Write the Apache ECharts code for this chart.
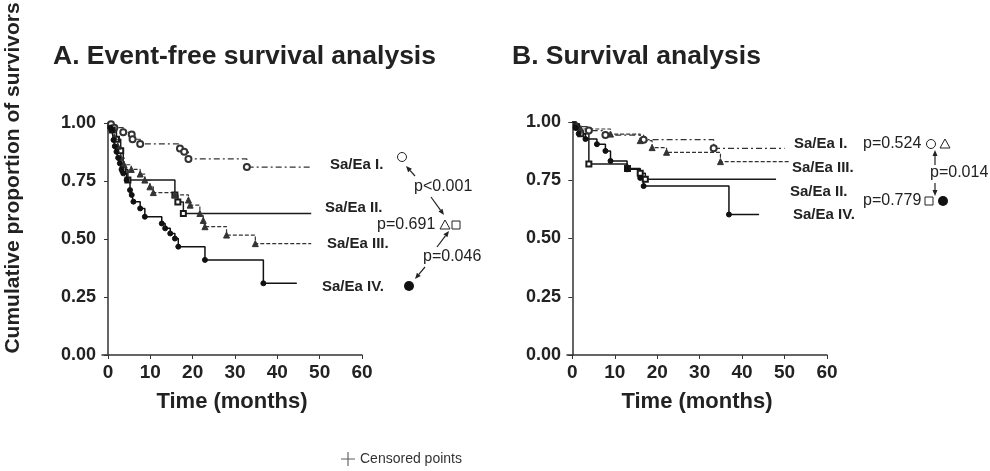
<!DOCTYPE html>
<html lang="en">
<head>
    <meta charset="UTF-8">
    <title>Kaplan-Meier survival</title>
</head>
<body style="margin:0">
    <div id="card" style="width: 990px;height:471px;"></div>
    <script src="https://cdn.jsdelivr.net/npm/echarts@6/dist/echarts.min.js"></script>
    <script>
        // A. event-free survival (months, proportion)
        var a1T = [0, 0.7, 1.5, 3.6, 5.6, 5.8, 7.6, 17, 18, 19, 32.8, 48];
        var a1V = [1, 0.995, 0.98, 0.96, 0.95, 0.93, 0.91, 0.89, 0.876, 0.845, 0.81, 0.81];
        var a2T = [0, 1, 2, 3, 3.6, 4.7, 15.8, 16.5, 17.8, 48];
        var a2V = [1, 0.97, 0.93, 0.88, 0.8, 0.754, 0.69, 0.66, 0.61, 0.61];
        var a3T = [0, 0.8, 1.5, 2.3, 3, 3.8, 5.5, 7.6, 8.7, 9.9, 10.7, 15.8, 19, 19.4, 21.7, 22.5, 22.9, 28, 34.8, 48];
        var a3V = [1, 0.98, 0.94, 0.9, 0.85, 0.82, 0.8, 0.78, 0.754, 0.725, 0.7, 0.69, 0.668, 0.646, 0.61, 0.58, 0.553, 0.517, 0.48, 0.48];
        var a4T = [0, 0.5, 0.9, 1.3, 1.6, 2, 2.4, 2.8, 3.2, 3.6, 4.4, 5.2, 5.6, 6, 7.6, 8.7, 12.7, 13.5, 14.7, 15.8, 16.6, 22.9, 36.7, 44.6];
        var a4V = [1, 0.98, 0.97, 0.927, 0.9, 0.876, 0.85, 0.826, 0.8, 0.783, 0.754, 0.711, 0.69, 0.661, 0.632, 0.596, 0.567, 0.546, 0.524, 0.502, 0.467, 0.41, 0.309, 0.309];

        // B. overall survival
        var b1T = [0, 1, 3.9, 7.8, 16.8, 33.3, 50];
        var b1V = [1, 0.98, 0.963, 0.944, 0.924, 0.887, 0.887];
        var b2T = [0, 1, 2, 3.9, 13, 16, 17.2, 48];
        var b2V = [1, 0.98, 0.95, 0.82, 0.8, 0.78, 0.754, 0.754];
        var b3T = [0, 1, 2, 9, 16, 18.8, 22.2, 34.9, 51];
        var b3V = [1, 0.985, 0.97, 0.948, 0.92, 0.89, 0.87, 0.83, 0.83];
        var b4T = [0, 0.8, 1.5, 3.1, 5.8, 7.8, 9, 12.9, 16, 16.8, 36.9, 44];
        var b4V = [1, 0.975, 0.95, 0.927, 0.905, 0.876, 0.833, 0.797, 0.76, 0.725, 0.603, 0.603];

        var xTicks = [0, 10, 20, 30, 40, 50, 60];
        var yTicks = [0, 0.25, 0.5, 0.75, 1];

        var FONT = '"Liberation Sans", Arial, sans-serif';

        // step data, no marker on first and last point
        function km(t, v) {
            var res = [];
            for (var i = 0; i < t.length; i++) {
                var item = { value: [t[i], v[i]] };
                if (i == 0 || i == t.length - 1) item.symbol = 'none';
                res.push(item);
            }
            return res;
        }

        var styles = [
            { symbol: 'emptyCircle', size: 6, line: { color: '#333', width: 1.2, type: [6, 3, 2, 3] } },
            { symbol: 'emptyRect', size: 5, line: { color: '#1a1a1a', width: 1.5, type: 'solid' } },
            { symbol: 'triangle', size: 6, line: { color: '#333', width: 1.2, type: [4, 2] } },
            { symbol: 'circle', size: 5, line: { color: '#111', width: 1.5, type: 'solid' } }
        ];

        function curve(name, t, v, k, idx) {
            var s = styles[k];
            return {
                name: name,
                type: 'line',
                step: 'end',
                xAxisIndex: idx,
                yAxisIndex: idx,
                symbol: s.symbol,
                symbolSize: s.size,
                showSymbol: true,
                itemStyle: { color: s.line.color, borderColor: s.line.color, borderWidth: 1 },
                lineStyle: s.line,
                animation: false,
                data: km(t, v)
            };
        }

        function xAx(idx, min) {
            return {
                type: 'value', gridIndex: idx, min: min, max: 60,
                name: 'Time (months)', nameLocation: 'middle', nameGap: 36,
                nameTextStyle: { fontFamily: FONT, fontWeight: 'bold', fontSize: 22, color: '#222' },
                axisLine: { lineStyle: { color: '#333', width: 1.5 } },
                axisTick: { length: 4, customValues: xTicks, lineStyle: { color: '#333' } },
                axisLabel: { customValues: xTicks, margin: 8, fontFamily: FONT, fontWeight: 'bold', fontSize: 19, color: '#222' },
                splitLine: { show: false }
            };
        }

        function yAx(idx) {
            return {
                type: 'value', gridIndex: idx, min: 0, max: 1,
                axisLine: { show: true, lineStyle: { color: '#333', width: 1.5 } },
                axisTick: { show: true, length: 4, customValues: yTicks, lineStyle: { color: '#333' } },
                axisLabel: {
                    customValues: yTicks, margin: 6, fontFamily: FONT, fontWeight: 'bold', fontSize: 18, color: '#222',
                    formatter: function (v) { return v.toFixed(2); }
                },
                splitLine: { show: false }
            };
        }

        // annotation helpers
        function txt(x, y, s, bold, size) {
            return {
                type: 'text', x: x, y: y, silent: true,
                style: {
                    text: s, fill: '#222', textVerticalAlign: 'middle',
                    font: (bold ? 'bold ' : '') + (size || 16) + 'px ' + FONT
                }
            };
        }
        function arrow(x1, y1, x2, y2) {
            var a = Math.atan2(y2 - y1, x2 - x1), L = 6, w = 2.5;
            var bx = x2 - L * Math.cos(a), by = y2 - L * Math.sin(a);
            return [
                { type: 'line', silent: true, shape: { x1: x1, y1: y1, x2: bx, y2: by }, style: { stroke: '#222', lineWidth: 1.2 } },
                {
                    type: 'polygon', silent: true,
                    shape: { points: [[x2, y2], [bx - w * Math.sin(a), by + w * Math.cos(a)], [bx + w * Math.sin(a), by - w * Math.cos(a)]] },
                    style: { fill: '#222' }
                }
            ];
        }
        function openCircle(x, y) {
            return { type: 'circle', silent: true, shape: { cx: x, cy: y, r: 4.5 }, style: { fill: '#fff', stroke: '#222', lineWidth: 1 } };
        }
        function dot(x, y) {
            return { type: 'circle', silent: true, shape: { cx: x, cy: y, r: 5 }, style: { fill: '#111' } };
        }
        function tri(x, y) {
            return { type: 'polygon', silent: true, shape: { points: [[x, y - 5], [x - 5, y + 4], [x + 5, y + 4]] }, style: { fill: 'none', stroke: '#222', lineWidth: 1 } };
        }
        function box(x, y) {
            return { type: 'rect', silent: true, shape: { x: x - 4, y: y - 4, width: 8, height: 8 }, style: { fill: 'none', stroke: '#222', lineWidth: 1 } };
        }

        var graphics = [
            {
                type: 'text', x: 13, y: 178, rotation: Math.PI / 2, silent: true,
                style: { text: 'Cumulative proportion of survivors', fill: '#222', textAlign: 'center', textVerticalAlign: 'middle', font: 'bold 21px ' + FONT }
            },
            // panel A
            txt(330, 165, 'Sa/Ea I.', true, 15),
            txt(325, 208, 'Sa/Ea II.', true, 15),
            txt(327, 244, 'Sa/Ea III.', true, 15),
            txt(322, 287, 'Sa/Ea IV.', true, 15),
            openCircle(402, 157),
            txt(414, 187, 'p<0.001'),
            txt(377, 225, 'p=0.691'),
            tri(445, 225), box(456, 225),
            txt(423, 257, 'p=0.046'),
            dot(409, 286),
            // panel B
            txt(794, 144, 'Sa/Ea I.', true, 15),
            txt(792, 168, 'Sa/Ea III.', true, 15),
            txt(790, 192, 'Sa/Ea II.', true, 15),
            txt(793, 215, 'Sa/Ea IV.', true, 15),
            txt(863, 144, 'p=0.524'),
            openCircle(931, 144), tri(945, 144),
            txt(930, 173, 'p=0.014'),
            txt(863, 201, 'p=0.779'),
            box(929, 201), dot(943, 201)
        ];
        graphics = graphics
            .concat(arrow(415, 176, 406, 166))
            .concat(arrow(431, 197, 444, 215))
            .concat(arrow(437, 247, 449, 231))
            .concat(arrow(425, 267, 415, 279))
            .concat(arrow(935, 165, 935, 150))
            .concat(arrow(935, 183, 935, 196));

        var option = {
            backgroundColor: '#fff',
            title: [
                { text: 'A. Event-free survival analysis', left: 53, top: 43, padding: 0, textStyle: { fontFamily: FONT, fontWeight: 'bold', fontSize: 26.5, color: '#222' } },
                { text: 'B. Survival analysis', left: 512, top: 43, padding: 0, textStyle: { fontFamily: FONT, fontWeight: 'bold', fontSize: 26.5, color: '#222' } }
            ],
            legend: {
                left: 336, top: 447, itemWidth: 14, itemHeight: 14,
                data: [{ name: 'Censored points', icon: 'path://M0,4.6h10v0.8h-10z M4.6,0h0.8v10h-0.8z' }],
                textStyle: { fontFamily: FONT, fontSize: 14, color: '#333' }
            },
            grid: [
                { left: 102, top: 123, width: 260, height: 232 },
                { left: 567, top: 122, width: 260, height: 233 }
            ],
            xAxis: [xAx(0, -1.42), xAx(1, -1.25)],
            yAxis: [yAx(0), yAx(1)],
            graphic: graphics,
            series: [
                curve('A I', a1T, a1V, 0, 0),
                curve('A II', a2T, a2V, 1, 0),
                curve('A III', a3T, a3V, 2, 0),
                curve('A IV', a4T, a4V, 3, 0),
                curve('B I', b1T, b1V, 0, 1),
                curve('B II', b2T, b2V, 1, 1),
                curve('B III', b3T, b3V, 2, 1),
                curve('B IV', b4T, b4V, 3, 1),
                {
                    name: 'Censored points', type: 'scatter', xAxisIndex: 0, yAxisIndex: 0,
                    itemStyle: { color: '#333' }, data: []
                }
            ]
        };

        var myChart = echarts.init(document.getElementById('card'));
        myChart.setOption(option);
    </script>
</body>
</html>
